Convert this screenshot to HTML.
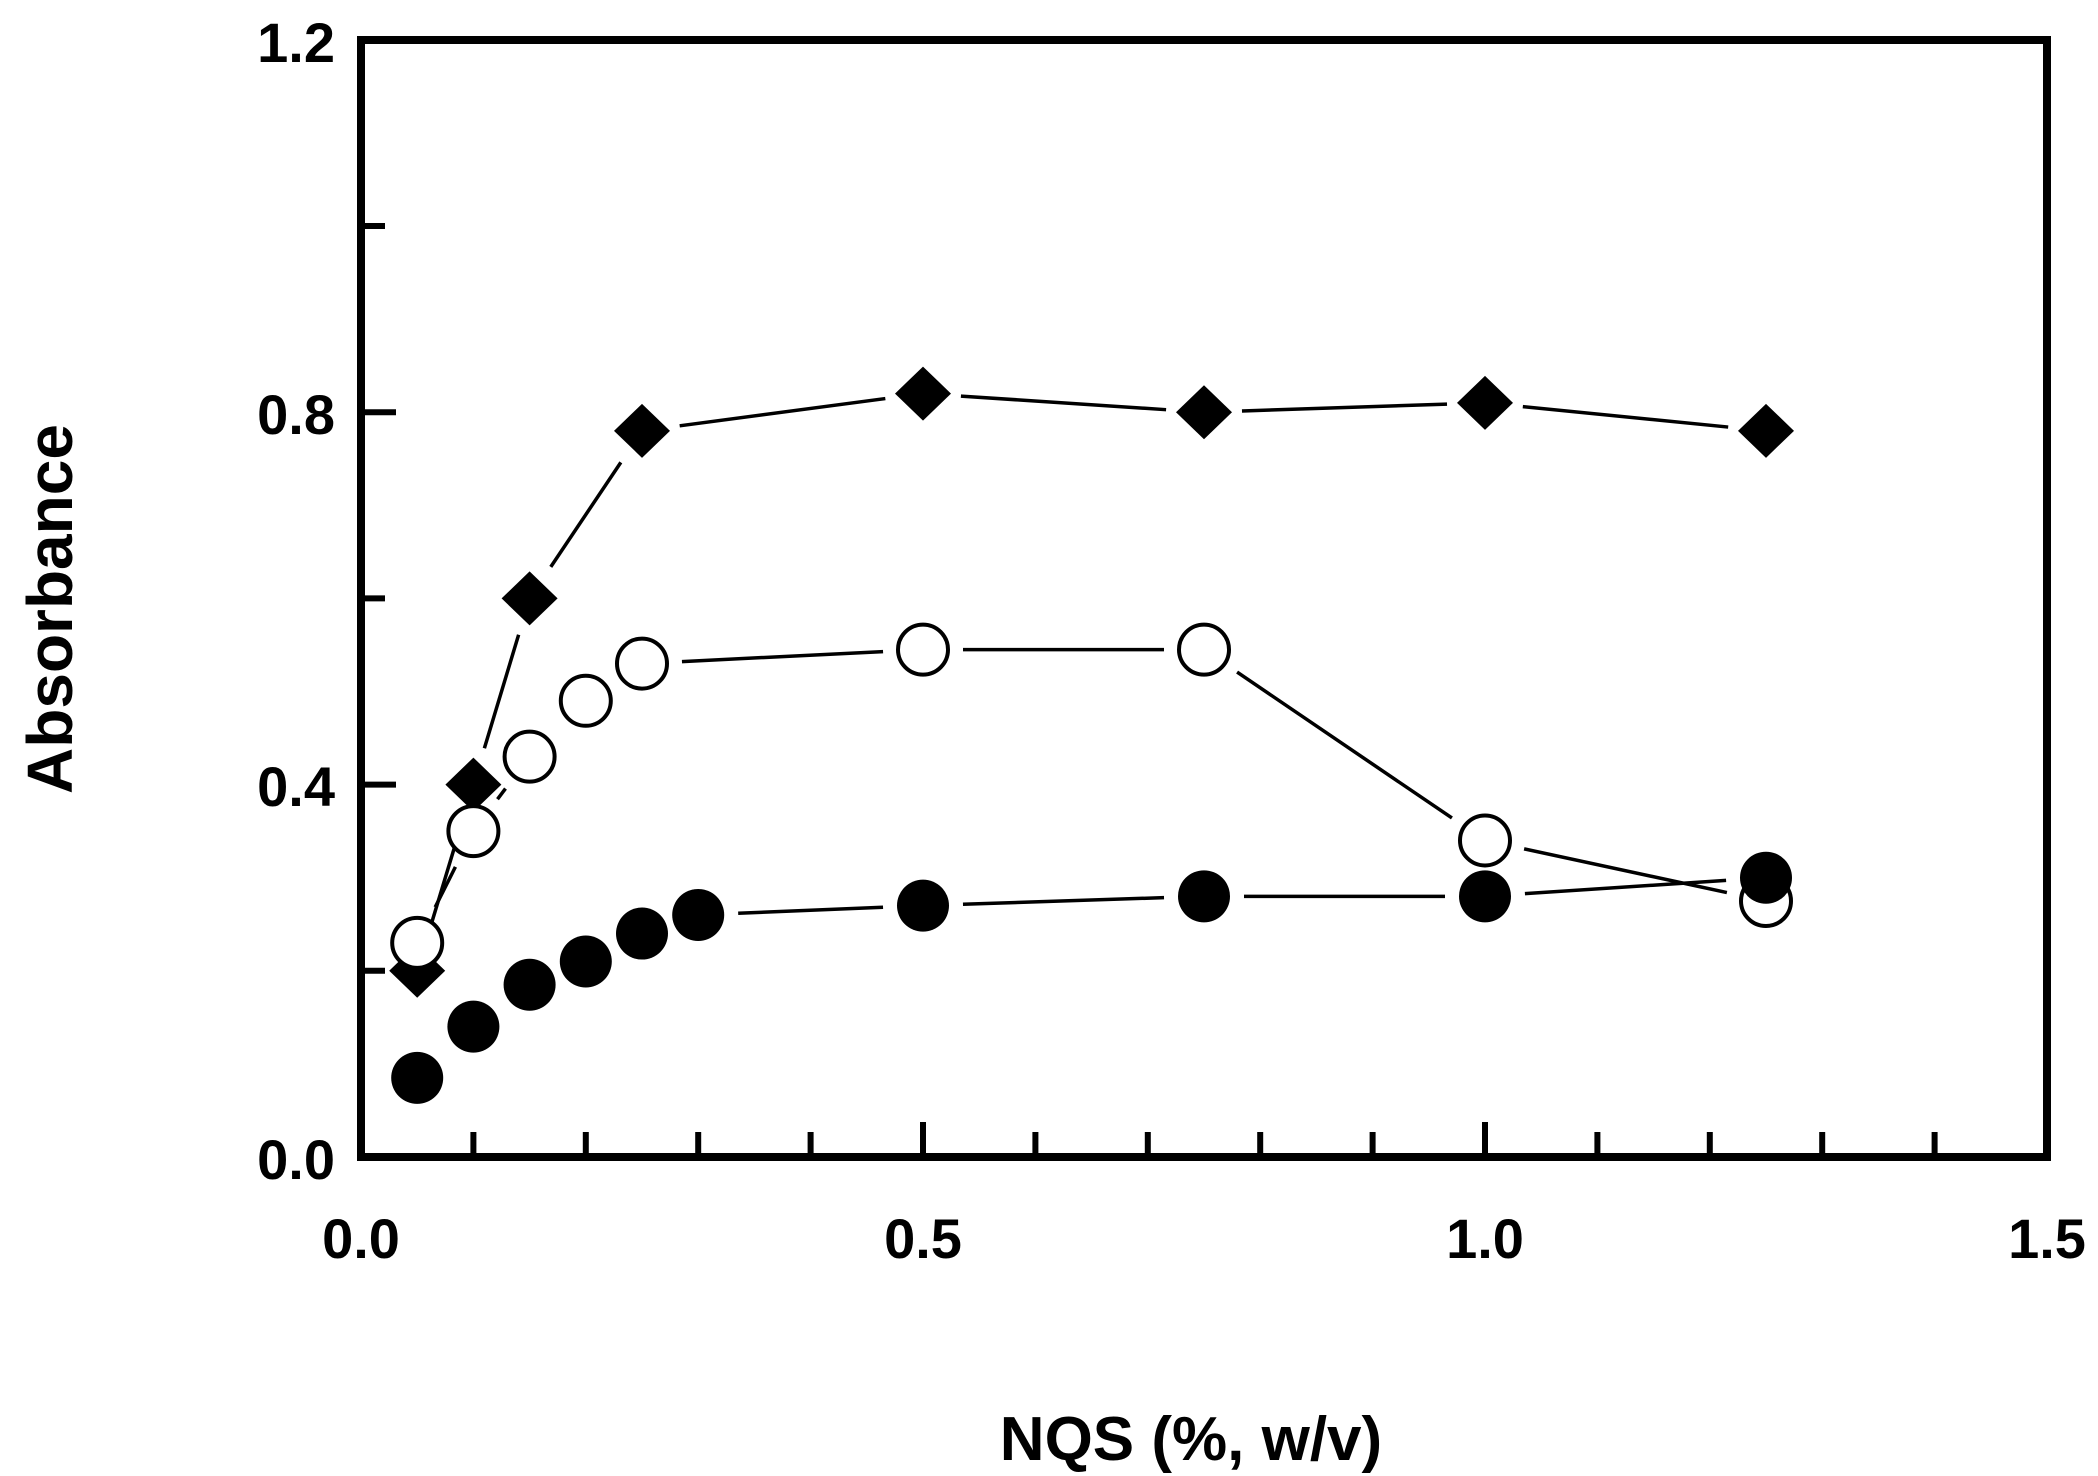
<!DOCTYPE html>
<html><head><meta charset="utf-8"><style>
html,body{margin:0;padding:0;background:#fff;}
svg{display:block;}
text{font-family:"Liberation Sans",Arial,sans-serif;font-weight:bold;fill:#000;}
</style></head><body>
<svg id="s" width="2098" height="1476" viewBox="0 0 2098 1476" xmlns="http://www.w3.org/2000/svg">
<rect x="361" y="40" width="1686" height="1117" fill="none" stroke="#000" stroke-width="8"/>
<g id="g"></g>
<text x="335" y="62" font-size="56" text-anchor="end">1.2</text>
<text x="335" y="434" font-size="56" text-anchor="end">0.8</text>
<text x="335" y="806" font-size="56" text-anchor="end">0.4</text>
<text x="335" y="1179" font-size="56" text-anchor="end">0.0</text>
<text x="361" y="1258" font-size="56" text-anchor="middle">0.0</text>
<text x="923" y="1258" font-size="56" text-anchor="middle">0.5</text>
<text x="1485" y="1258" font-size="56" text-anchor="middle">1.0</text>
<text x="2047" y="1258" font-size="56" text-anchor="middle">1.5</text>
<text x="1191" y="1460" font-size="62" text-anchor="middle">NQS (%, w/v)</text>
<text transform="translate(72,609) rotate(-90)" font-size="64" text-anchor="middle">Absorbance</text>
</svg>
<script>
var ns="http://www.w3.org/2000/svg",g=document.getElementById('g');
function X(v){return 361+v*1124;}function Y(v){return 1157-v*931;}
function el(t,a){var e=document.createElementNS(ns,t);for(var k in a)e.setAttribute(k,a[k]);g.appendChild(e);return e;}
for(var i=1;i<15;i++){var L=(i%5==0)?35:25;el('line',{x1:X(i/10),x2:X(i/10),y1:1157,y2:1157-L,stroke:'#000','stroke-width':6});}
for(var j=1;j<6;j++){var L=(j%2==0)?35:24;el('line',{x1:361,x2:361+L,y1:Y(j*0.2),y2:Y(j*0.2),stroke:'#000','stroke-width':6});}
var D=[[0.05,0.2],[0.1,0.4],[0.15,0.6],[0.25,0.78],[0.5,0.82],[0.75,0.80],[1.0,0.81],[1.25,0.78]];
var O=[[0.05,0.23],[0.1,0.35],[0.15,0.43],[0.2,0.49],[0.25,0.53],[0.5,0.545],[0.75,0.545],[1.0,0.34],[1.25,0.275]];
var F=[[0.05,0.085],[0.1,0.14],[0.15,0.185],[0.2,0.21],[0.25,0.24],[0.3,0.26],[0.5,0.27],[0.75,0.28],[1.0,0.28],[1.25,0.30]];
function lines(P,gap){for(var i=0;i<P.length-1;i++){var x1=X(P[i][0]),y1=Y(P[i][1]),x2=X(P[i+1][0]),y2=Y(P[i+1][1]);var dx=x2-x1,dy=y2-y1,d=Math.hypot(dx,dy);if(d<2*gap)continue;var ux=dx/d,uy=dy/d;el('line',{x1:x1+ux*gap,y1:y1+uy*gap,x2:x2-ux*gap,y2:y2-uy*gap,stroke:'#000','stroke-width':3.5});}}
lines(D,38);lines(O,40);lines(F,40);
D.forEach(function(p){var x=X(p[0]),y=Y(p[1]);el('polygon',{points:(x-28)+','+y+' '+x+','+(y-27)+' '+(x+28)+','+y+' '+x+','+(y+27),fill:'#000'});});
O.forEach(function(p){el('circle',{cx:X(p[0]),cy:Y(p[1]),r:25,fill:'#fff',stroke:'#000','stroke-width':4});});
F.forEach(function(p){el('circle',{cx:X(p[0]),cy:Y(p[1]),r:26,fill:'#000'});});
</script>
</body></html>
